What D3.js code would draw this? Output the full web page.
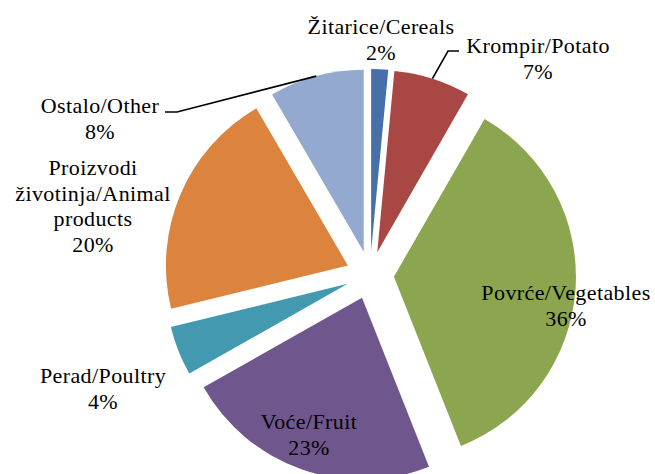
<!DOCTYPE html>
<html>
<head>
<meta charset="utf-8">
<script src="https://cdn.jsdelivr.net/npm/d3@7"></script>
<style>
  body { margin: 0; background: #fff; }
</style>
</head>
<body>
<svg id="chart" width="655" height="474"></svg>
<script>
// data (shares in %), clockwise from 12 o'clock
var categories = ["Žitarice/Cereals", "Krompir/Potato", "Povrće/Vegetables", "Voće/Fruit",
                  "Perad/Poultry", "Proizvodi životinja/Animal products", "Ostalo/Other"];
var values = [1.5, 6.8, 35.7, 22.8, 4.4, 20.4, 8.4];
var colors = ["#4571a8", "#a84744", "#8ba64e", "#6f578e", "#4299b0", "#dc843d", "#94a9cf"];

// label text lines (the category name split as in the picture)
var labelLines = [
  ["Žitarice/Cereals"],
  ["Krompir/Potato"],
  ["Povrće/Vegetables"],
  ["Voće/Fruit"],
  ["Perad/Poultry"],
  ["Proizvodi", "životinja/Animal", "products"],
  ["Ostalo/Other"]
];

// layout: label anchor (center x, first baseline y) and leader elbow, if any
var labelPos = [
  {x: 381, y: 34},
  {x: 538, y: 53, leader: [[459, 51], [448, 51]]},
  {x: 566, y: 300},
  {x: 309, y: 429},
  {x: 103, y: 383},
  {x: 93,  y: 175},
  {x: 100, y: 113, leader: [[165, 112], [177, 112]]}
];

var CX = 370, CY = 275;   // pie centre
var R = 182;              // radius
var EXPLODE = 24;         // every slice pulled out by this much
var LINE = 25.5;          // label line height

var svg = d3.select("#chart");

var pie = d3.pie().sort(null).value(function(d) { return d; });
var arcs = pie(values);
var total = d3.sum(values);

var arc = d3.arc().innerRadius(0).outerRadius(R);

function mid(d) { return (d.startAngle + d.endAngle) / 2; }
function offset(d) {
  var a = mid(d);
  return [EXPLODE * Math.sin(a), -EXPLODE * Math.cos(a)];
}

var g = svg.append("g").attr("transform", "translate(" + CX + "," + CY + ")");

g.selectAll("path.slice")
  .data(arcs)
  .enter().append("path")
  .attr("class", "slice")
  .attr("d", arc)
  .attr("fill", function(d, i) { return colors[i]; })
  .attr("transform", function(d) { var o = offset(d); return "translate(" + o[0] + "," + o[1] + ")"; });

// leader lines: from elbow to outer arc at the slice bisector
arcs.forEach(function(d, i) {
  var p = labelPos[i];
  if (!p.leader) return;
  var o = offset(d), a = mid(d);
  var end = [CX + o[0] + R * Math.sin(a), CY + o[1] - R * Math.cos(a)];
  var pts = p.leader.concat([end]);
  svg.append("path")
    .attr("d", d3.line()(pts))
    .attr("fill", "none")
    .attr("stroke", "#000")
    .attr("stroke-width", 1.6);
});

// labels
var labels = svg.selectAll("text.lbl")
  .data(arcs)
  .enter().append("text")
  .attr("class", "lbl")
  .attr("text-anchor", "middle")
  .style("font-family", "'Liberation Serif', 'DejaVu Serif', serif")
  .style("font-size", "22px")
  .style("letter-spacing", "0.4px")
  .attr("fill", "#000");

labels.each(function(d, i) {
  var t = d3.select(this);
  var p = labelPos[i];
  var lines = labelLines[i].concat([Math.round(d.value / total * 100) + "%"]);
  lines.forEach(function(s, k) {
    t.append("tspan")
      .attr("x", p.x)
      .attr("y", p.y + k * LINE)
      .text(s);
  });
});
</script>
</body>
</html>
